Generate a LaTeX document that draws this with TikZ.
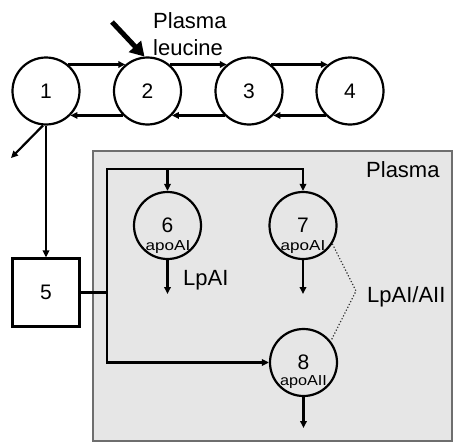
\documentclass[tikz,border=0pt]{standalone}
\usepackage{fontspec}
\setmainfont{Liberation Sans}
\usetikzlibrary{arrows.meta}
\definecolor{plasmagray}{HTML}{E6E6E6}
\definecolor{edgegray}{HTML}{6E6E6E}
\tikzset{
  pool/.style={circle,draw=black,line width=2.2pt,minimum size=67pt,inner sep=0pt,font=\fontsize{21}{24}\selectfont},
  boxpool/.style={rectangle,draw=black,line width=2.2pt,minimum width=67pt,minimum height=68pt,inner sep=0pt,font=\fontsize{21}{24}\selectfont},
  conn/.style={line width=2.2pt,draw=black},
  arr/.style={conn,-{Triangle[length=7pt,width=6.5pt]}},
  lbl/.style={anchor=base west,inner sep=0pt,font=\fontsize{22}{26}\selectfont},
  apo/.style={inner sep=0pt,font=\fontsize{14.5}{16}\selectfont},
}
\begin{document}
\begin{tikzpicture}[x=1pt,y=-1pt]
\useasboundingbox (0,0) rectangle (456,442);
% plasma compartment
\path[fill=plasmagray,draw=edgegray,line width=1.3pt] (93,151) rectangle (452,441);
\node[lbl] (plasmaL) at (366,177) {Plasma};

% top chain
\node[pool] (c1) at (46,91) {1};
\node[pool] (c2) at (147.5,91) {2};
\node[pool] (c3) at (249,91) {3};
\node[pool] (c4) at (350,91) {4};
\draw[arr] (c1.50) -- (c2.130);
\draw[arr] (c2.50) -- (c3.130);
\draw[arr] (c3.50) -- (c4.130);
\draw[arr] (c4.-135) -- (c3.-45);
\draw[arr] (c3.-135) -- (c2.-45);
\draw[arr] (c2.-135) -- (c1.-45);

% plasma leucine input
\node[lbl] (pl1) at (153,28) {Plasma};
\node[lbl] (pl2) at (153,55) {leucine};
\coordinate (bigstart) at (112,22);
\draw[line width=5pt,-{Triangle[length=14pt,width=16pt]}] (bigstart) -- (c2.95);

% loss from pool 1
\coordinate (loss1) at (11,158);
\draw[arr] (c1.-95) -- (loss1);

% pool 5
\node[boxpool] (b5) at (46,292.5) {5};
\draw[arr] (c1.south) -- (b5.north);

% plasma pools
\node[pool] (c6) at (167.5,225.5) {6};
\node[pool] (c7) at (303,225.5) {7};
\node[pool] (c8) at (303.5,362.5) {8};
\node[apo] (a6) at (168,247) {\scalebox{1.18}[1]{apoAI}};
\node[apo] (a7) at (303,247) {\scalebox{1.18}[1]{apoAI}};
\node[apo] (a8) at (303.5,382) {\scalebox{1.12}[1]{apoAII}};

\coordinate (j) at (107,292.5);
\coordinate (jt) at (107,169);
\draw[conn] (b5.east) -- (j);
\draw[arr] (j) -- (jt) -| (c7.north);
\draw[arr] (c6.north |- jt) -- (c6.north);
\draw[arr] (j) |- (c8.west);

% outputs
\coordinate (o6) at (167.5,294);
\coordinate (o7) at (303,294);
\coordinate (o8) at (303.5,428);
\draw[arr] (c6.south) -- (o6);
\draw[arr] (c7.south) -- (o7);
\draw[arr] (c8.south) -- (o8);

% labels
\node[lbl] (lpa) at (183,285) {LpAI};
\node[lbl] (lpaa) at (367,302) {LpAI/AII};
\coordinate (apex) at (356,291);
\draw[dotted,line width=1.2pt,draw=black!80] (c7.-32) -- (apex) -- (c8.38);
\end{tikzpicture}
\end{document}
